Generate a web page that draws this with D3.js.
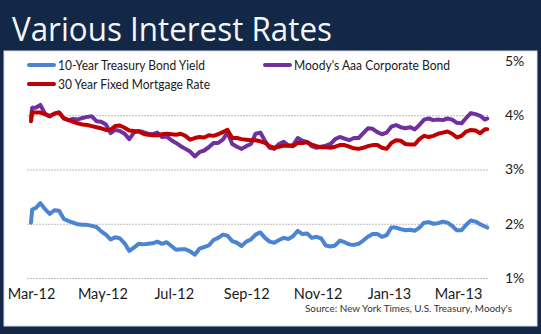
<!DOCTYPE html>
<html>
<head>
<meta charset="utf-8">
<script src="https://cdn.jsdelivr.net/npm/d3@7"></script>
<style>
  html, body { margin: 0; padding: 0; background: #132747; }
  svg { display: block; }
</style>
</head>
<body>
<svg id="chart" width="541" height="334"></svg>
<script>
// Observation dates (roughly every four days, Mar 2012 – Mar 2013)
const dates = [
  "2012-03-01","2012-03-02","2012-03-05","2012-03-09","2012-03-13","2012-03-17","2012-03-21","2012-03-25","2012-03-29",
  "2012-04-02","2012-04-06","2012-04-10","2012-04-14","2012-04-18","2012-04-22","2012-04-26","2012-04-30",
  "2012-05-04","2012-05-08","2012-05-12","2012-05-16","2012-05-20","2012-05-24","2012-05-28",
  "2012-06-01","2012-06-05","2012-06-09","2012-06-13","2012-06-17","2012-06-21","2012-06-25","2012-06-29",
  "2012-07-03","2012-07-07","2012-07-11","2012-07-15","2012-07-19","2012-07-23","2012-07-27","2012-07-31",
  "2012-08-04","2012-08-08","2012-08-12","2012-08-16","2012-08-20","2012-08-24","2012-08-28",
  "2012-09-01","2012-09-05","2012-09-09","2012-09-13","2012-09-17","2012-09-21","2012-09-25","2012-09-29",
  "2012-10-03","2012-10-07","2012-10-11","2012-10-15","2012-10-19","2012-10-23","2012-10-27","2012-10-31",
  "2012-11-04","2012-11-08","2012-11-12","2012-11-16","2012-11-20","2012-11-24","2012-11-28",
  "2012-12-02","2012-12-06","2012-12-10","2012-12-14","2012-12-18","2012-12-22","2012-12-26","2012-12-30",
  "2013-01-03","2013-01-07","2013-01-11","2013-01-15","2013-01-19","2013-01-23","2013-01-27","2013-01-31",
  "2013-02-04","2013-02-08","2013-02-12","2013-02-16","2013-02-20","2013-02-24","2013-02-28",
  "2013-03-04","2013-03-08","2013-03-12","2013-03-16","2013-03-20","2013-03-24","2013-03-26"
];

// 10-Year Treasury Bond Yield (%)
const treasury = [
  2.02,2.26,2.29,2.38,2.27,2.18,2.25,2.24,2.09,
  2.05,2.02,1.99,1.98,1.98,1.96,1.94,1.86,
  1.80,1.71,1.75,1.73,1.64,1.50,1.56,
  1.63,1.62,1.63,1.64,1.67,1.63,1.66,1.59,
  1.52,1.53,1.53,1.49,1.43,1.54,1.57,1.60,
  1.70,1.74,1.80,1.78,1.68,1.65,1.59,
  1.67,1.71,1.80,1.84,1.74,1.67,1.65,1.70,
  1.74,1.72,1.77,1.87,1.81,1.82,1.74,1.76,
  1.73,1.60,1.58,1.60,1.69,1.66,1.62,
  1.61,1.63,1.69,1.76,1.81,1.81,1.76,1.79,
  1.93,1.93,1.90,1.88,1.89,1.87,1.93,2.02,
  2.03,2.00,2.01,2.04,2.02,1.96,1.88,
  1.88,1.98,2.06,2.04,1.99,1.95,1.93
];

// Moody's Aaa Corporate Bond yield (%)
const moodys = [
  3.95,4.14,4.14,4.19,4.03,3.98,4.03,4.05,3.94,
  3.91,3.93,3.92,3.95,3.97,3.98,3.89,3.88,
  3.83,3.67,3.73,3.71,3.66,3.56,3.68,
  3.71,3.69,3.66,3.65,3.68,3.60,3.61,3.54,
  3.49,3.43,3.38,3.33,3.24,3.32,3.35,3.41,
  3.49,3.49,3.55,3.68,3.47,3.42,3.38,
  3.43,3.47,3.66,3.68,3.53,3.40,3.38,3.47,
  3.51,3.44,3.45,3.58,3.53,3.51,3.43,3.40,
  3.42,3.44,3.47,3.56,3.60,3.57,3.54,
  3.58,3.58,3.67,3.76,3.75,3.69,3.65,3.68,
  3.79,3.82,3.78,3.76,3.78,3.74,3.82,3.92,
  3.94,3.91,3.92,3.91,3.94,3.92,3.86,
  3.85,3.95,4.04,4.02,3.99,3.92,3.94
];

// 30 Year Fixed Mortgage Rate (%)
const mortgage = [
  3.89,4.05,4.05,4.05,4.02,3.98,4.03,4.05,3.95,
  3.91,3.88,3.85,3.83,3.82,3.80,3.78,3.76,
  3.73,3.73,3.80,3.81,3.77,3.72,3.71,
  3.70,3.66,3.64,3.63,3.63,3.65,3.66,3.65,
  3.64,3.66,3.62,3.55,3.58,3.60,3.59,3.63,
  3.62,3.65,3.69,3.73,3.58,3.58,3.56,
  3.55,3.54,3.54,3.52,3.49,3.43,3.40,3.42,
  3.44,3.44,3.43,3.49,3.49,3.50,3.46,3.43,
  3.41,3.41,3.40,3.42,3.45,3.45,3.42,
  3.39,3.38,3.40,3.43,3.45,3.45,3.40,3.38,
  3.49,3.54,3.53,3.47,3.46,3.46,3.56,3.62,
  3.60,3.62,3.66,3.68,3.70,3.66,3.59,
  3.62,3.70,3.73,3.72,3.67,3.74,3.74
];

// Axis ticks
const monthTicks = ["2012-03-01","2012-05-01","2012-07-01","2012-09-01","2012-11-01","2013-01-01","2013-03-01"];
const rateTicks = [1, 2, 3, 4, 5];
const gridTicks = [1, 2, 3, 4];

const seriesNames = ["10-Year Treasury Bond Yield", "Moody's Aaa Corporate Bond", "30 Year Fixed Mortgage Rate"];
const seriesColors = ["#4a84d2", "#7030a0", "#c00000"];

const parse = d3.timeParse("%Y-%m-%d");
const dateObjs = dates.map(parse);
const seriesValues = [treasury, moodys, mortgage];

const svg = d3.select("#chart");
const FONT = "Lato, 'Open Sans', sans-serif";

// Background frame and white panel
svg.append("rect").attr("x", 0).attr("y", 0).attr("width", 541).attr("height", 334).attr("fill", "#132747");
svg.append("rect").attr("x", 4).attr("y", 51).attr("width", 533).attr("height", 275)
  .attr("fill", "#ffffff").attr("stroke", "#d9dde3").attr("stroke-width", 1);

// Title
svg.append("text")
  .attr("x", 12).attr("y", 41)
  .attr("fill", "#f4f6f9")
  .style("font-family", "'Open Sans', sans-serif")
  .style("font-size", "32px")
  .attr("textLength", 320).attr("lengthAdjust", "spacingAndGlyphs")
  .text("Various Interest Rates");

// Scales
const x = d3.scaleTime()
  .domain([parse(monthTicks[0]), parse(monthTicks[monthTicks.length - 1])])
  .range([31, 458]);
const y = d3.scaleLinear().domain([1, 5]).range([278, 61]);

// Gridlines
const grid = svg.append("g")
  .attr("transform", "translate(27,0)")
  .call(d3.axisLeft(y).tickValues(gridTicks).tickSize(-461).tickFormat(""));
grid.select(".domain").remove();
grid.selectAll(".tick line").attr("stroke", "#bdbdbd").attr("stroke-width", 1).attr("stroke-dasharray", "2,1");

// Y axis labels (right side)
const yAxis = svg.append("g")
  .attr("transform", "translate(498,0)")
  .call(d3.axisRight(y).tickValues(rateTicks).tickSize(0).tickPadding(7).tickFormat(d => d + "%"));
yAxis.select(".domain").remove();
yAxis.selectAll("text").attr("fill", "#1a1a1a").style("font-family", FONT).style("font-size", "14px");

// X axis labels
const xAxis = svg.append("g")
  .attr("transform", "translate(0,286)")
  .call(d3.axisBottom(x).tickValues(monthTicks.map(parse)).tickSize(0).tickPadding(3)
    .tickFormat(d3.timeFormat("%b-%y")));
xAxis.select(".domain").remove();
xAxis.selectAll("text").attr("fill", "#1a1a1a").style("font-family", FONT).style("font-size", "14.5px");

// Series lines: treasury, Moody's, then mortgage on top
const line = d3.line()
  .x((d, i) => x(dateObjs[i]))
  .y(d => y(d));

svg.append("g").selectAll("path")
  .data(seriesValues)
  .join("path")
  .attr("d", line)
  .attr("fill", "none")
  .attr("stroke", (d, i) => seriesColors[i])
  .attr("stroke-width", 4)
  .attr("stroke-linejoin", "round")
  .attr("stroke-linecap", "round");

// Legend
const legendPos = [[29, 65], [265, 65], [29, 84]];
const legendWidths = [147, 156, 152];
const legend = svg.append("g");
seriesNames.forEach((name, i) => {
  const [lx, ly] = legendPos[i];
  legend.append("line")
    .attr("x1", lx).attr("x2", lx + 25).attr("y1", ly).attr("y2", ly)
    .attr("stroke", seriesColors[i]).attr("stroke-width", 4).attr("stroke-linecap", "round");
  legend.append("text")
    .attr("x", lx + 29).attr("y", ly).attr("dy", "0.35em")
    .attr("fill", "#1a1a1a")
    .style("font-family", FONT).style("font-size", "13px")
    .attr("textLength", legendWidths[i]).attr("lengthAdjust", "spacingAndGlyphs")
    .text(name);
});

// Source note
svg.append("text")
  .attr("x", 512).attr("y", 308).attr("dy", "0.35em")
  .attr("text-anchor", "end")
  .attr("fill", "#333333")
  .style("font-family", FONT).style("font-size", "10px")
  .attr("textLength", 207).attr("lengthAdjust", "spacingAndGlyphs")
  .text("Source:  New York Times, U.S. Treasury, Moody's");
</script>
</body>
</html>
